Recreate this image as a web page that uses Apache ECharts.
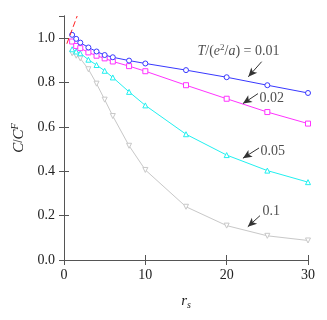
<!DOCTYPE html>
<html><head><meta charset="utf-8">
<script src="https://cdn.jsdelivr.net/npm/echarts@6/dist/echarts.min.js"></script>
<style>html,body{margin:0;padding:0;background:#fff}#c{width:327px;height:320px}</style>
</head><body><div id="c"></div>
<script>
const rs = [1, 1.5, 2, 3, 4, 5, 6, 8, 10, 15, 20, 25, 30];
const c001 = [1.015, 0.997, 0.98, 0.958, 0.94, 0.924, 0.914, 0.899, 0.886, 0.856, 0.824, 0.788, 0.753];
const c002 = [0.985, 0.965, 0.955, 0.936, 0.921, 0.909, 0.895, 0.874, 0.851, 0.788, 0.727, 0.667, 0.615];
const c005 = [0.95, 0.94, 0.932, 0.903, 0.879, 0.853, 0.823, 0.758, 0.697, 0.567, 0.473, 0.403, 0.351];
const c01 = [0.932, 0.921, 0.909, 0.86, 0.795, 0.723, 0.649, 0.515, 0.406, 0.24, 0.155, 0.109, 0.088];
const redX = [0.35, 1.62];
const redY = [0.975, 1.1];
const xTicks = [0, 10, 20, 30];
const yTicks = [0.0, 0.2, 0.4, 0.6, 0.8, 1.0];
const labelText = ['{i|T}/({i|e}{sup|2}/{i|a}) = 0.01', '0.02', '0.05', '0.1'];
const labelPos = [[16.35, 0.941], [23.98, 0.727], [24.1, 0.491], [24.35, 0.218]];
const arrowFrom = [[24.3, 0.894], [23.85, 0.75], [23.98, 0.505], [24.1, 0.2]];
const arrowTo = [[22.66, 0.826], [22.0, 0.705], [22.0, 0.459], [22.6, 0.15]];

const font = "'Liberation Serif', 'Times New Roman', serif";
const axisColor = '#555';
const zip = (xs, ys) => xs.map((x, i) => [x, ys[i]]);

function mk(name, ys, color, symbol, rot) {
  return {
    name, type: 'line', data: zip(rs, ys), color,
    symbol, symbolSize: 5, symbolRotate: rot || 0, showAllSymbol: true,
    lineStyle: { color, width: 1 },
    itemStyle: { color: '#fff', borderColor: color, borderWidth: 1 },
    silent: true, animation: false, z: 3
  };
}

const chart = echarts.init(document.getElementById('c'));
chart.setOption({
  animation: false,
  backgroundColor: '#fff',
  grid: { left: 64, right: 19, top: 16, bottom: 60 },
  xAxis: [{
    type: 'value', min: 0, max: 30, interval: 10,
    name: '{i|r}{sub|s}', nameLocation: 'middle', nameGap: 32,
    nameTextStyle: { rich: {
      i: { fontFamily: font, fontStyle: 'italic', fontSize: 15, color: '#222' },
      sub: { fontFamily: font, fontStyle: 'italic', fontSize: 10, color: '#222', padding: [8, 0, 0, 0] } } },
    axisLine: { lineStyle: { color: axisColor, width: 1 } },
    axisTick: { inside: true, length: 5, lineStyle: { color: axisColor } },
    axisLabel: { fontFamily: font, fontSize: 14, color: '#222', margin: 8 },
    splitLine: { show: false }
  }, {
    type: 'value', min: 0, max: 30, interval: 10, position: 'top',
    axisLine: { show: true, lineStyle: { color: axisColor, width: 1 } },
    axisTick: { inside: true, length: 5, lineStyle: { color: axisColor } },
    axisLabel: { show: false }, splitLine: { show: false }
  }],
  yAxis: [{
    type: 'value', min: 0, max: 1.1, interval: 0.2,
    name: '{i|C}/{i|C}{sup|F}', nameLocation: 'middle', nameGap: 32, nameRotate: 90,
    nameTextStyle: { rich: {
      i: { fontFamily: font, fontStyle: 'italic', fontSize: 15, color: '#222' },
      sup: { fontFamily: font, fontStyle: 'italic', fontSize: 10, color: '#222', padding: [0, 0, 8, 0] } } },
    axisLine: { show: true, lineStyle: { color: axisColor, width: 1 } },
    axisTick: { inside: true, length: 5, lineStyle: { color: axisColor } },
    axisLabel: { fontFamily: font, fontSize: 14, color: '#222', margin: 9, showMaxLabel: false,
      formatter: v => (Math.abs(v * 5 - Math.round(v * 5)) < 1e-6 ? v.toFixed(1) : '') },
    splitLine: { show: false }
  }, {
    type: 'value', min: 0, max: 1.1, interval: 0.2, position: 'right',
    axisLine: { show: true, lineStyle: { color: axisColor, width: 1 } },
    axisTick: { inside: true, length: 5, lineStyle: { color: axisColor } },
    axisLabel: { show: false }, splitLine: { show: false }
  }],
  series: [
    mk('0.1', c01, '#c8c8c8', 'triangle', 180),
    mk('0.05', c005, '#22f0f0', 'triangle', 0),
    mk('0.02', c002, '#ff33ff', 'rect', 0),
    mk('0.01', c001, '#3838ff', 'circle', 0),
    {
      type: 'line', data: zip(redX, redY), symbol: 'none',
      lineStyle: { color: '#ff2020', width: 1, type: [6, 3] }, z: 4
    },
    {
      type: 'scatter', symbolSize: 1, itemStyle: { color: 'rgba(0,0,0,0)' },
      data: labelPos.map((p, i) => ({ value: p, label: { formatter: labelText[i] } })),
      label: {
        show: true, position: 'right', distance: 0,
        fontFamily: font, fontSize: 14, color: '#222',
        rich: {
          i: { fontFamily: font, fontStyle: 'italic', fontSize: 14, color: '#222' },
          sup: { fontFamily: font, fontSize: 9, color: '#222', padding: [0, 0, 7, 0] }
        }
      },
      markLine: {
        silent: true, symbol: ['none', 'arrow'], symbolSize: [6, 9],
        label: { show: false },
        lineStyle: { color: '#333', width: 1, type: 'solid' },
        data: arrowFrom.map((f, i) => [{ coord: f }, { coord: arrowTo[i] }])
      },
      z: 5
    }
  ]
});
</script>
</body></html>
